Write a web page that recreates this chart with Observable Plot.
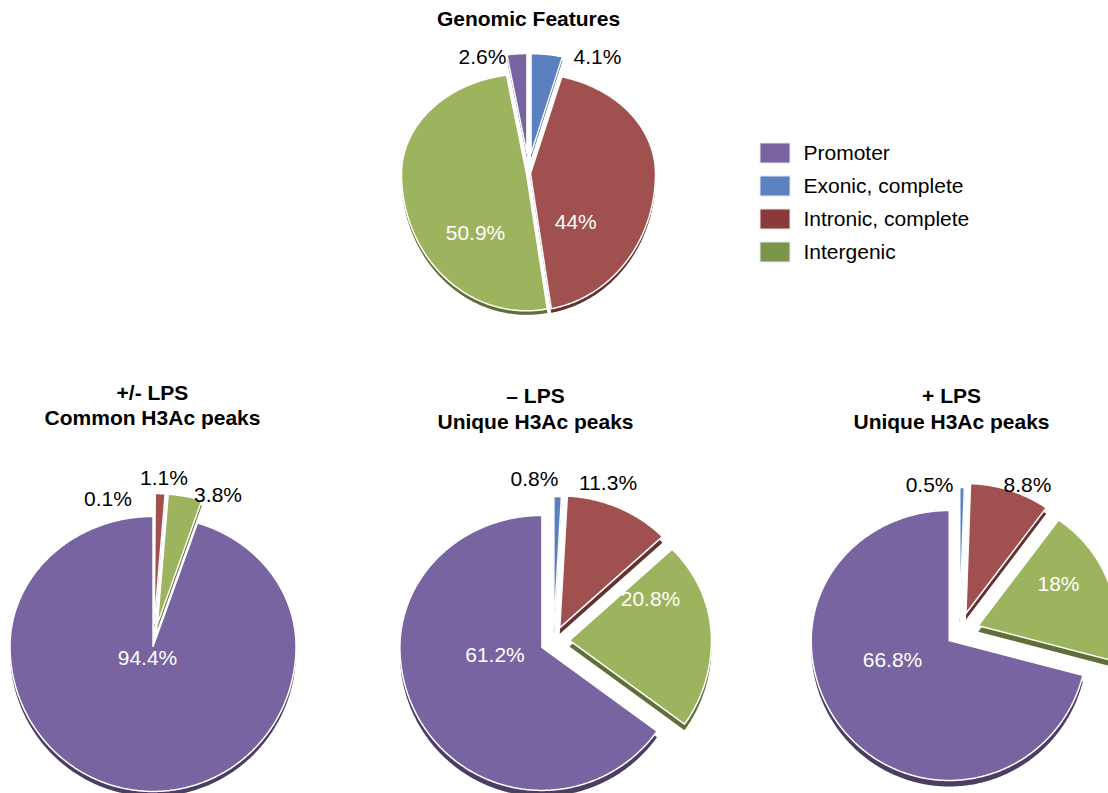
<!DOCTYPE html>
<html><head><meta charset="utf-8">
<script src="https://cdn.jsdelivr.net/npm/d3@7"></script>
<script src="https://cdn.jsdelivr.net/npm/@observablehq/plot@0.6"></script>
<style>html,body{margin:0;padding:0;background:#fff;} #chart svg{display:block}</style>
</head><body><div id="chart"></div>
<script>
// ---- data ----
const categories = ["Promoter", "Exonic, complete", "Intronic, complete", "Intergenic"];
const genomicFeatures = [2.6, 4.1, 44, 50.9];
const commonPeaks = [94.4, 0.1, 1.1, 3.8];
const minusLpsUnique = [61.2, 0.8, 11.3, 20.8];
const plusLpsUnique = [66.8, 0.5, 8.8, 18];
const pieTitles = [
  ["Genomic Features"],
  ["+/- LPS", "Common H3Ac peaks"],
  ["– LPS", "Unique H3Ac peaks"],
  ["+ LPS", "Unique H3Ac peaks"]
];
// clockwise order of slices starting at 12 o'clock
const sliceOrder = ["Exonic, complete", "Intronic, complete", "Intergenic", "Promoter"];

// ---- style / layout ----
const faceColors = ["#7864a0", "#5b80c0", "#a0504e", "#9cb45d"];
const legendColors = ["#7b63a1", "#5a81c0", "#8a3a3a", "#7b954a"];
const font = "'Liberation Sans', Arial, Helvetica, sans-serif";

const layout = [
  {values: genomicFeatures, cx: 528, cy: 173, rx: 125, rTop: 100, rBot: 137, depth: 4,
   explode: [20, 20, 2, 2], titleX: 528, titleY: [19],
   labels: [[338.4, 125], [30.7, 135], [136, 68], [221.5, 80]], inside: [false, false, true, true]},
  {values: commonPeaks, cx: 153, cy: 643, rx: 143, rTop: 130, rBot: 145, depth: 5,
   explode: [3, 20, 20, 20], titleX: 152, titleY: [393, 418],
   labels: [[202.5, 15.7], [342.5, 151.5], [3.6, 165.8], [23.5, 161.9]], inside: [true, false, false, false]},
  {values: minusLpsUnique, cx: 553, cy: 641, rx: 142, rTop: 132, rBot: 143, depth: 6,
   explode: [13, 13, 15, 16], titleX: 535, titleY: [396, 422],
   labels: [[256.5, 60.2], [353.3, 163.6], [19, 167.6], [66.3, 105.9]], inside: [true, false, false, true]},
  {values: plusLpsUnique, cx: 959, cy: 632, rx: 138, rTop: 130, rBot: 140, depth: 6,
   explode: [13, 15, 20, 20], titleX: 951, titleY: [396, 422],
   labels: [[247.7, 72.4], [348.5, 150], [24.8, 162], [63.9, 110.2]], inside: [true, false, false, true]}
];

// ---- geometry from values ----
const faces = [], labelRows = [], titleRows = [];
layout.forEach((p, pi) => {
  const rows = sliceOrder.map(c => ({cat: c, value: p.values[categories.indexOf(c)]}));
  const arcs = d3.pie().sort(null).value(d => d.value).startAngle(0).endAngle(2 * Math.PI)(rows);
  arcs.forEach(a => {
    const ci = categories.indexOf(a.data.cat);
    const m = (a.startAngle + a.endAngle) / 2;
    const e = p.explode[ci];
    const ax = p.cx + e * Math.sin(m), ay = p.cy - e * Math.cos(m);
    const key = pi + "-" + ci;
    faces.push({key, cat: a.data.cat, x: ax, y: ay, depth: p.depth});
    const n = Math.max(2, Math.ceil((a.endAngle - a.startAngle) / 0.01));
    for (let k = 0; k <= n; k++) {
      const th = a.startAngle + (a.endAngle - a.startAngle) * k / n;
      const c = Math.cos(th), s = Math.sin(th);
      faces.push({key, cat: a.data.cat, x: ax + p.rx * s, y: ay - (c > 0 ? p.rTop : p.rBot) * c, depth: p.depth});
    }
  });
  categories.forEach((c, ci) => {
    const [ang, dist] = p.labels[ci];
    const t = ang * Math.PI / 180;
    labelRows.push({x: p.cx + dist * Math.sin(t), y: p.cy - dist * Math.cos(t),
      text: p.values[ci] + "%", inside: p.inside[ci]});
  });
  pieTitles[pi].forEach((t, li) => titleRows.push({x: p.titleX, y: p.titleY[li], text: t}));
});
const sides = faces.map(d => ({...d, y: d.y + d.depth}));

const legendRows = categories.map((c, i) => ({cat: c, i, color: legendColors[i]}));
const legX = 760, legW = 30, legY0 = 153, legStep = 33, legH = 20;

const chart = Plot.plot({
  width: 1108, height: 793, margin: 0,
  x: {domain: [0, 1108], range: [0, 1108], axis: null},
  y: {domain: [0, 793], range: [0, 793], axis: null},
  color: {domain: categories, range: faceColors},
  style: {fontFamily: font, background: "white", overflow: "hidden"},
  marks: [
    // 3D side of the pies
    Plot.line(sides, {x: "x", y: "y", z: "key", fill: "cat", stroke: "none", curve: "linear-closed"}),
    Plot.line(sides, {x: "x", y: "y", z: "key", fill: "black", fillOpacity: 0.38, stroke: "none", curve: "linear-closed"}),
    // top faces
    Plot.line(faces, {x: "x", y: "y", z: "key", fill: "cat", stroke: "white", strokeWidth: 1.5, curve: "linear-closed"}),
    // labels
    Plot.text(labelRows.filter(d => !d.inside), {x: "x", y: "y", text: "text", fill: "black", fontSize: 21, textAnchor: "middle", lineAnchor: "middle"}),
    Plot.text(labelRows.filter(d => d.inside), {x: "x", y: "y", text: "text", fill: "white", fontSize: 21, textAnchor: "middle", lineAnchor: "middle"}),
    // titles
    Plot.text(titleRows, {x: "x", y: "y", text: "text", fill: "black", fontSize: 21, fontWeight: "bold", textAnchor: "middle", lineAnchor: "middle"}),
    // legend
    ...legendRows.map(d => Plot.rect([d], {x1: () => legX, x2: () => legX + legW,
      y1: r => legY0 + r.i * legStep - legH / 2, y2: r => legY0 + r.i * legStep + legH / 2,
      fill: d.color, stroke: "#e6e6ef", strokeWidth: 1})),
    Plot.text(legendRows, {x: () => legX + 43, y: d => legY0 + d.i * legStep, text: "cat", fill: "black", fontSize: 21, textAnchor: "start", lineAnchor: "middle"})
  ]
});
document.getElementById("chart").append(chart);
</script>
</body></html>
